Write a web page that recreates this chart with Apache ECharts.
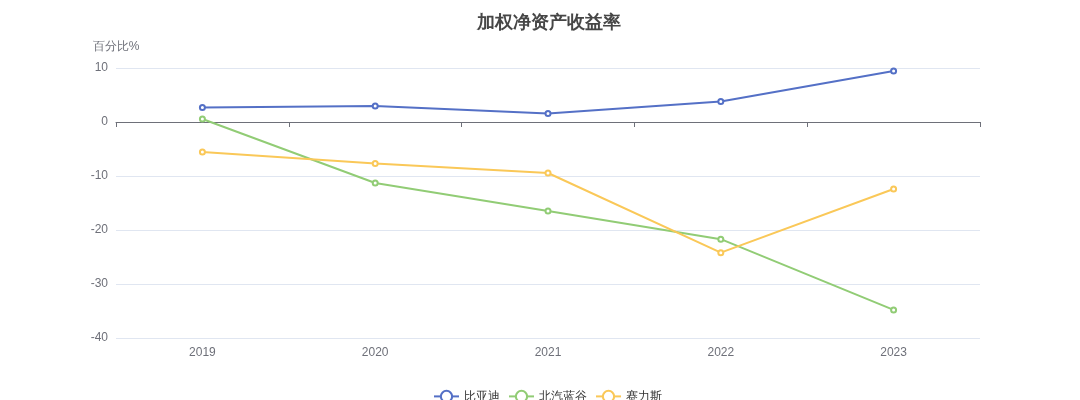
<!DOCTYPE html>
<html><head><meta charset="utf-8">
<script src="https://cdn.jsdelivr.net/npm/echarts@6/dist/echarts.min.js"></script>
<style>html,body{margin:0;padding:0;background:#fff}#c{width:1080px;height:400px}</style>
</head><body><div id="c"></div>
<script>
const categories = ['2019','2020','2021','2022','2023'];
const byd = [2.69, 2.96, 1.57, 3.80, 9.44];
const bjev = [0.56, -11.30, -16.50, -21.70, -34.80];
const seres = [-5.56, -7.70, -9.44, -24.20, -12.40];
const yTicks = {min: -40, max: 10, interval: 10};

const chart = echarts.init(document.getElementById('c'));
const mk = (name, data, color) => ({
  name, type: 'line', data, xAxisIndex: 0,
  symbol: 'emptyCircle', symbolSize: 5,
  lineStyle: {width: 2, color}, itemStyle: {color}
});
chart.setOption({
  animation: false,
  color: ['#5470c6', '#91cc75', '#fac858'],
  title: {text: '加权净资产收益率', left: 472, top: 9,
    textStyle: {fontSize: 18, fontWeight: 'bold', color: '#464646'}},
  legend: {left: 428, bottom: -8, data: ['比亚迪','北汽蓝谷','赛力斯'],
    textStyle: {color: '#333', fontSize: 12}},
  grid: {left: 116, right: 100, top: 68, bottom: 62},
  xAxis: [
    {type: 'category', data: categories, axisLine: {onZero: true, lineStyle: {color: '#6E7079'}},
     axisTick: {show: true}, axisLabel: {show: false}},
    {type: 'category', data: categories, position: 'bottom',
     axisLine: {show: false, onZero: false}, axisTick: {show: false},
     axisLabel: {color: '#6E7079', fontSize: 12, margin: 9}}
  ],
  yAxis: {type: 'value', name: '百分比%', min: yTicks.min, max: yTicks.max, interval: yTicks.interval,
    nameTextStyle: {color: '#6E7079', fontSize: 12, align: 'center'},
    axisLabel: {color: '#6E7079'}, splitLine: {lineStyle: {color: '#E0E6F1'}}},
  series: [mk('比亚迪', byd, '#5470c6'), mk('北汽蓝谷', bjev, '#91cc75'), mk('赛力斯', seres, '#fac858')]
});
</script></body></html>
